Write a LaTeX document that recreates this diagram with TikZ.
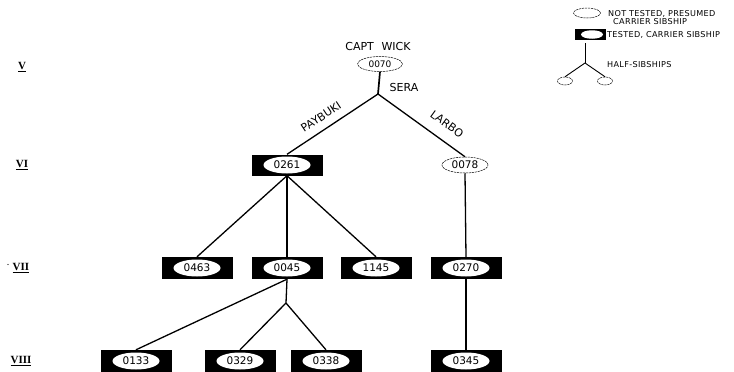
\documentclass[tikz,border=0pt]{standalone}
\usepackage{fontspec}
\setmainfont{DejaVu Sans}
\newfontfamily\legfont[LetterSpace=4]{DejaVu Sans}
\newfontfamily\lvlfont{Liberation Serif}
\usetikzlibrary{shapes.geometric}
\begin{document}
\begin{tikzpicture}[x=1pt,y=-1pt,
 tbox/.style={rectangle,fill=black,minimum width=71pt,minimum height=22pt,inner sep=0pt},
 tell/.style={ellipse,fill=white,minimum width=47pt,minimum height=17pt,inner sep=0pt,font=\fontsize{10.5}{11}\selectfont},
 nell/.style={ellipse,draw,line width=0.5pt,dash pattern=on 2.2pt off 0.8pt,minimum width=46pt,minimum height=16pt,inner sep=0pt,font=\fontsize{10.5}{11}\selectfont},
 conn/.style={line width=1.3pt},
 lbl/.style={font=\fontsize{11}{12}\selectfont,inner sep=0pt},
 leg/.style={font=\legfont\fontsize{8.1}{9}\selectfont,inner sep=0pt,anchor=west},
 lvl/.style={font=\lvlfont\bfseries\fontsize{11}{12}\selectfont,inner sep=0pt}
]
\useasboundingbox (0,0) rectangle (734,372);

% generation labels
\node[lvl] (gV) at (22,67) {\underline{V}};
\node[lvl] (gVI) at (22,165) {\underline{VI}};
\node[lvl] (gVII) at (21,268) {\underline{VII}};
\fill (8,264.5) circle (0.7);
\node[lvl] (gVIII) at (21,361) {\underline{VIII}};

% top
\node[lbl] (capt) at (378,46) {CAPT\hspace{0.7em}WICK};
\node[nell,minimum width=45pt,minimum height=15pt,font=\fontsize{9}{10}\selectfont] (n0070) at (380,64) {0070};
\coordinate (j1) at (378,94);
\node[lbl] (sera) at (404,87) {SERA};

% generation VI
\node[tbox,minimum height=21pt] (b0261) at (287,165) {};
\node[tell] (e0261) at (b0261) {0261};
\node[nell] (n0078) at (465,165) {0078};

% generation VII
\node[tbox] (b0463) at (197,268) {};
\node[tell] (e0463) at (b0463) {0463};
\node[tbox] (b0045) at (287,268) {};
\node[tell] (e0045) at (b0045) {0045};
\node[tbox] (b1145) at (376,268) {};
\node[tell] (e1145) at (b1145) {1145};
\node[tbox] (b0270) at (466,268) {};
\node[tell] (e0270) at (b0270) {0270};

% generation VIII
\coordinate (j2) at (286,303);
\node[tbox] (b0133) at (136,361) {};
\node[tell] (e0133) at (b0133) {0133};
\node[tbox] (b0329) at (240,361) {};
\node[tell] (e0329) at (b0329) {0329};
\node[tbox] (b0338) at (326,361) {};
\node[tell] (e0338) at (b0338) {0338};
\node[tbox] (b0345) at (466,361) {};
\node[tell] (e0345) at (b0345) {0345};

% connectors
\draw[conn,line width=1.7pt] (n0070.south) -- (j1);
\draw[conn] (j1) -- (b0261.north);
\draw[conn] (j1) -- (n0078.north);
\draw[conn] (b0261.south) -- (b0463.north);
\draw[conn] (b0261.south) -- (b0045.north);
\draw[conn] (b0261.south) -- (b1145.north);
\draw[conn] (n0078.south) -- (b0270.north);
\draw[conn] (b0045.south) -- (b0133.north);
\draw[conn] (b0045.south) -- (j2);
\draw[conn] (j2) -- (b0329.north);
\draw[conn] (j2) -- (b0338.north);
\draw[conn] (b0270.south) -- (b0345.north);

\node[lbl,rotate=33.4] (pay) at (321,117) {PAYBUKI};
\node[lbl,rotate=-36] (larbo) at (447,124) {LARBO};

% legend
\node[nell,minimum width=27pt,minimum height=10pt] (le1) at (587,13) {};
\node[leg] (lt1) at (608,14) {NOT TESTED, PRESUMED};
\node[leg] (lt1b) at (613,22) {CARRIER SIBSHIP};
\node[tbox,minimum width=31pt,minimum height=11pt] (lb2) at (590,34.5) {};
\node[tell,minimum width=22pt,minimum height=8.5pt] (le2) at (592,34.5) {};
\node[leg] (lt2) at (607,35) {TESTED, CARRIER SIBSHIP};
\coordinate (lh0) at (585,43);
\coordinate (lhj) at (585,63);
\node[nell,minimum width=15pt,minimum height=8pt] (lhl) at (565,81) {};
\node[nell,minimum width=15pt,minimum height=8pt] (lhr) at (605,81) {};
\draw[line width=0.9pt] (lh0) -- (lhj);
\draw[line width=0.9pt] (lhj) -- (lhl.north);
\draw[line width=0.9pt] (lhj) -- (lhr.north);
\node[leg] (lt3) at (607,65) {HALF-SIBSHIPS};
\end{tikzpicture}
\end{document}
